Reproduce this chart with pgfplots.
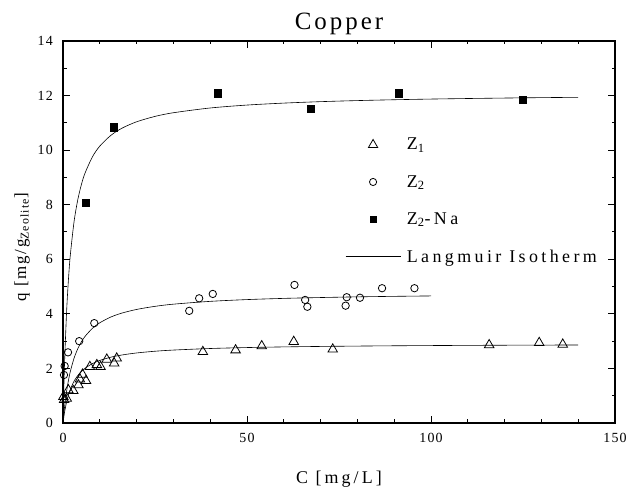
\documentclass[border=0pt]{standalone}
\usepackage{fontspec}
\setmainfont{Liberation Serif}[LetterSpace=8]
\newfontfamily\labelfont{Liberation Serif}[LetterSpace=17]
\newfontfamily\ylabelfont{Liberation Serif}[LetterSpace=10]
\newfontfamily\legendfont{Liberation Serif}[LetterSpace=19]
\newfontfamily\titlefont{Liberation Serif}[LetterSpace=12]
\usepackage{pgfplots}
\pgfplotsset{compat=1.18}

% adsorption data for copper on the two zeolites
\pgfplotstableread{
C     q
0.1   0.96
0.3   0.85
1.0   0.90
1.45  1.21
2.8   1.18
4.2   1.39
4.6   1.60
5.3   1.78
6.25  1.55
7.3   2.06
9.2   2.13
10.2  2.06
11.9  2.33
13.9  2.19
14.6  2.37
38.0  2.61
46.9  2.67
54.0  2.82
62.7  2.98
73.3  2.70
115.8 2.86
129.4 2.94
135.8 2.88
}\zone

\pgfplotstableread{
C     q
0.27  1.76
0.45  2.09
1.36  2.59
4.4   3.00
8.5   3.66
34.3  4.11
37.0  4.57
40.7  4.73
62.9  5.06
65.8  4.51
66.4  4.26
77.1  4.61
76.8  4.30
80.7  4.59
86.7  4.94
95.5  4.94
}\ztwo

\pgfplotstableread{
C     q
6.25  8.06
13.7  10.84
42.1  12.09
67.3  11.53
91.3  12.09
125.0 11.85
}\ztwona

% Langmuir isotherms (q = qm K C / (1 + K C)), tabulated
\pgfplotstableread{
C    q1     q2     q3
0    0      0      0
0.25 0.246  0.362  1.392
0.5  0.454  0.673  2.497
1    0.785  1.180  4.139
1.5  1.038  1.576  5.302
2    1.237  1.894  6.169
3    1.531  2.373  7.373
4    1.737  2.717  8.171
5    1.890  2.975  8.739
6    2.007  3.176  9.163
8    2.177  3.470  9.755
10   2.293  3.673  10.148
13   2.412  3.884  10.541
16   2.492  4.028  10.802
20   2.567  4.162  11.039
25   2.630  4.275  11.236
30   2.673  4.355  11.371
40   2.730  4.458  11.545
50   2.765  4.523  11.652
60   2.789  4.567  11.724
70   2.806  4.598  11.777
80   2.819  4.623  11.816
90   2.830  4.642  11.847
100  2.838  4.657  11.872
110  2.845  nan    11.892
120  2.851  nan    11.909
130  2.855  nan    11.924
140  2.860  nan    11.936
}\langmuir

\pgfplotsset{
  isotherm legend/.style={legend image code/.code={%
      \draw[##1] (0bp,0bp) -- (55bp,0bp);}},
  point legend/.style={legend image code/.code={%
      \path[draw=none,fill=none] (0bp,0bp) -- (55bp,0bp);
      \draw[##1,only marks] plot coordinates {(27.5bp,0bp)};}},
}

\begin{document}
\begin{tikzpicture}
\begin{axis}[
  scale only axis, width=552bp, height=382bp,
  at={(63bp,65bp)}, anchor=south west,
  xmin=0, xmax=150, ymin=0, ymax=14,
  xtick={0,50,100,150}, minor x tick num=4,
  ytick={0,2,...,14}, minor y tick num=1,
  tick align=inside, major tick length=7bp, minor tick length=3.5bp,
  axis line style={line width=1.3bp},
  every tick/.style={black, line width=1bp},
  /pgf/number format/assume math mode=true,
  tick label style={font=\fontsize{14}{16}\selectfont},
  xticklabel style={inner sep=0pt, anchor=north, yshift=-10bp},
  yticklabel style={inner sep=0pt, anchor=east, xshift=-10bp},
  title={Copper},
  title style={font=\titlefont\fontsize{25}{29}\selectfont, at={(axis description cs:0.5,1)}, anchor=base, yshift=6bp, inner sep=0pt},
  xlabel={C [mg/L]},
  xlabel style={font=\labelfont\fontsize{18}{21}\selectfont, at={(axis description cs:0.5,0)}, anchor=base, yshift=-60bp, inner sep=0pt},
  ylabel={q [mg/g\textsubscript{Zeolite}]},
  ylabel style={font=\ylabelfont\fontsize{17}{20}\selectfont, at={(axis description cs:-0.0743,0.461)}, anchor=center, inner sep=0pt},
  legend style={draw=none, fill=none, at={(axis cs:76.65,10.52)}, anchor=north west,
    font=\legendfont\fontsize{18}{21}\selectfont, inner sep=0pt,
    row sep=20bp, column sep=4bp},
  legend cell align=left,
]
% measured points
\addplot[only marks, mark=triangle, mark size=5.5bp, line width=0.8bp, forget plot] table[x=C,y=q] {\zone};
\addplot[only marks, mark=o, mark size=3.7bp, line width=0.8bp, forget plot] table[x=C,y=q] {\ztwo};
\addplot[only marks, mark=square*, mark size=3.6bp, forget plot] table[x=C,y=q] {\ztwona};
% fitted isotherms
\addplot[black, line width=0.6bp, smooth, forget plot] table[x=C,y=q1] {\langmuir};
\addplot[black, line width=0.6bp, smooth, forget plot, unbounded coords=discard] table[x=C,y=q2] {\langmuir};
\addplot[black, line width=0.6bp, smooth, forget plot] table[x=C,y=q3] {\langmuir};
% legend entries
\addlegendimage{mark=triangle, mark size=5.3bp, line width=0.8bp, point legend}
\addlegendentry{Z\textsubscript{1}}
\addlegendimage{mark=o, mark size=3.6bp, line width=0.8bp, point legend}
\addlegendentry{Z\textsubscript{2}}
\addlegendimage{mark=square*, mark size=3.3bp, point legend}
\addlegendentry{Z\textsubscript{2}-Na}
\addlegendimage{black, line width=0.6bp, isotherm legend}
\addlegendentry{Langmuir Isotherm}
\end{axis}
\pgfresetboundingbox
\path (0bp,0bp) rectangle (628bp,488bp);
\end{tikzpicture}
\end{document}
